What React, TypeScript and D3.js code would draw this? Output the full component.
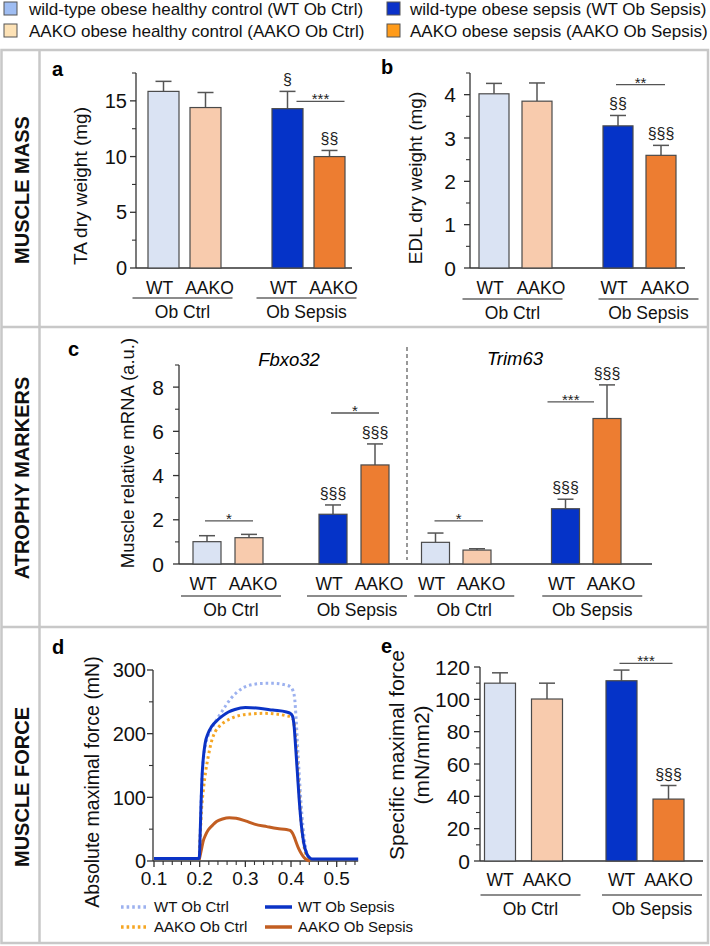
import React from "react";
import * as d3 from "d3";

const FONT = "'Liberation Sans', Arial, Helvetica, sans-serif";
const AX = "#333333";
const GRID = "#c8c8c8";

// ---------- data ----------
const legendLabels = [
  "wild-type obese healthy control (WT Ob Ctrl)",
  "AAKO obese healthy control (AAKO Ob Ctrl)",
  "wild-type obese sepsis (WT Ob Sepsis)",
  "AAKO obese sepsis (AAKO Ob Sepsis)",
];
const genotypes = ["WT", "AAKO", "WT", "AAKO"];
const groupNames = ["Ob Ctrl", "Ob Sepsis"];
const rowTitles = ["MUSCLE MASS", "ATROPHY MARKERS", "MUSCLE FORCE"];

const taMean = [15.85, 14.4, 14.3, 10.0];
const taSem = [0.9, 1.35, 1.55, 0.55];
const taMarks = ["", "", "§", "§§"];

const edlMean = [4.02, 3.85, 3.28, 2.6];
const edlSem = [0.24, 0.42, 0.24, 0.23];
const edlMarks = ["", "", "§§", "§§§"];

const fbxoMean = [1.01, 1.19, 2.25, 4.48];
const fbxoSem = [0.27, 0.15, 0.42, 0.95];
const fbxoMarks = ["", "", "§§§", "§§§"];

const trimMean = [0.98, 0.63, 2.5, 6.58];
const trimSem = [0.42, 0.06, 0.43, 1.52];
const trimMarks = ["", "", "§§§", "§§§"];

const forceMean = [110.0, 100.2, 111.5, 38.3];
const forceSem = [6.4, 9.8, 6.6, 8.4];
const forceMarks = ["", "", "", "§§§"];

// significance brackets: bar i to bar j at value v
const taBrackets = [{ i: 2, j: 3, v: 14.95, label: "***" }];
const edlBrackets = [{ i: 2, j: 3, v: 4.23, label: "**" }];
const fbxoBrackets = [
  { i: 0, j: 1, v: 1.95, label: "*" },
  { i: 2, j: 3, v: 6.83, label: "*" },
];
const trimBrackets = [
  { i: 0, j: 1, v: 1.95, label: "*" },
  { i: 2, j: 3, v: 7.33, label: "***" },
];
const forceBrackets = [{ i: 2, j: 3, v: 122.2, label: "***" }];

// force traces (time s, force mN)
const wtCtrlT = [0.199, 0.201, 0.203, 0.205, 0.208, 0.212, 0.218, 0.226, 0.237, 0.248, 0.258, 0.268, 0.28, 0.295, 0.315, 0.34, 0.365, 0.385, 0.398, 0.404, 0.408, 0.411, 0.414, 0.418, 0.422, 0.426, 0.431, 0.437, 0.445];
const wtCtrlF = [3, 40, 90, 128, 158, 180, 196, 208, 222, 234, 245, 255, 264, 272, 277, 279, 279, 277, 274, 268, 255, 225, 185, 135, 90, 55, 25, 8, 3];
const aakoCtrlT = [0.199, 0.201, 0.204, 0.208, 0.213, 0.219, 0.226, 0.234, 0.245, 0.258, 0.272, 0.29, 0.315, 0.34, 0.365, 0.39, 0.4, 0.405, 0.409, 0.413, 0.417, 0.421, 0.426, 0.432, 0.44, 0.447];
const aakoCtrlF = [3, 35, 80, 111, 140, 165, 188, 203, 213, 220, 225, 229, 231, 232, 231, 228, 226, 222, 200, 160, 115, 70, 35, 12, 4, 3];
const wtSepT = [0.1, 0.15, 0.199, 0.201, 0.203, 0.205, 0.208, 0.212, 0.218, 0.226, 0.237, 0.25, 0.263, 0.277, 0.3, 0.33, 0.36, 0.39, 0.398, 0.403, 0.407, 0.41, 0.414, 0.418, 0.423, 0.428, 0.434, 0.441, 0.448, 0.5, 0.547];
const wtSepF = [4, 4, 4, 40, 90, 130, 162, 185, 200, 211, 220, 228, 234, 238, 241, 240, 237, 234, 232, 228, 210, 180, 138, 95, 54, 28, 12, 5, 3, 3, 3];
const aakoSepT = [0.199, 0.202, 0.205, 0.208, 0.213, 0.219, 0.228, 0.237, 0.25, 0.265, 0.28, 0.3, 0.32, 0.347, 0.37, 0.39, 0.398, 0.403, 0.408, 0.412, 0.417, 0.423, 0.429, 0.435, 0.442];
const aakoSepF = [2, 12, 22, 32, 41, 49, 56, 62, 66, 68, 67, 63, 58, 54, 51, 49.5, 48, 44, 36, 28, 19, 11, 5, 1.5, 0.5];
const traceLabels = ["WT Ob Ctrl", "AAKO Ob Ctrl", "WT Ob Sepsis", "AAKO Ob Sepsis"];

// ---------- styles ----------
const barFills = ["#dae3f3", "#f8cbad", "#0533c8", "#ed7d31"];
const legendFills = ["#9fbdf2", "#fde2b6", "#0a31c9", "#ff9b1a"];
const traceColors = ["#9cb1ef", "#f5a623", "#0b33c6", "#c25e22"];

function VText({ x, y, size, weight, style, children }: any) {
  return (
    <text
      transform={`translate(${x},${y}) rotate(-90)`}
      textAnchor="middle"
      dy="0.35em"
      fontSize={size}
      fontWeight={weight}
      fontStyle={style}
      fill="#111"
    >
      {children}
    </text>
  );
}

function YAxis({ scale, x, max, major, minor, size, gap, fmt }: any) {
  const majors = d3.range(0, max + 1e-9, major);
  const minors = d3
    .range(0, max + 1e-9, minor)
    .filter((v) => Math.abs(v / major - Math.round(v / major)) > 1e-6);
  const f = fmt || ((v: number) => String(v));
  return (
    <g>
      <line x1={x} x2={x} y1={scale(0)} y2={scale(max)} stroke={AX} strokeWidth={1.3} />
      {majors.map((v) => (
        <g key={"M" + v}>
          <line x1={x - 6} x2={x} y1={scale(v)} y2={scale(v)} stroke={AX} strokeWidth={1.3} />
          <text x={x - gap} y={scale(v)} dy="0.36em" textAnchor="end" fontSize={size} fill="#111">
            {f(v)}
          </text>
        </g>
      ))}
      {minors.map((v) => (
        <line key={"m" + v} x1={x - 4} x2={x} y1={scale(v)} y2={scale(v)} stroke={AX} strokeWidth={1.1} />
      ))}
    </g>
  );
}

function Bars({ y, means, sems, marks, brackets, c0, step, gap, barW, ulShift, labelY, ulY, bOff, spread }: any) {
  const within = d3.scaleLinear().domain([0, 1]).range([c0, c0 + step]);
  const centers = [0, 1, 2, 3].map((i) => within(i % 2) + (i >= 2 ? step + gap : 0));
  const base = y(0);
  const sp = spread || 0;
  return (
    <g>
      {means.map((m: number, i: number) => {
        const cx = centers[i];
        const top = y(m + sems[i]);
        return (
          <g key={i}>
            <line x1={cx} x2={cx} y1={y(m)} y2={top} stroke="#555" strokeWidth={1.5} />
            <line x1={cx - 8} x2={cx + 8} y1={top} y2={top} stroke="#555" strokeWidth={1.5} />
            <rect x={cx - barW / 2} y={y(m)} width={barW} height={base - y(m)} fill={barFills[i]} stroke="#4a4a4a" strokeWidth={1.2} />
            {marks[i] ? (
              <text x={cx} y={top - 6} textAnchor="middle" fontSize={16} fill="#222">
                {marks[i]}
              </text>
            ) : null}
            <text x={cx + (i % 2 === 0 ? -sp : sp)} y={labelY} textAnchor="middle" fontSize={17.5} fill="#111">
              {genotypes[i]}
            </text>
          </g>
        );
      })}
      {brackets.map((b: any, k: number) => {
        const o = (bOff && bOff[k]) || [-2, 4];
        const x1 = centers[b.i] + o[0];
        const x2 = centers[b.j] + o[1];
        return (
          <g key={"b" + k}>
            <line x1={x1} x2={x2} y1={y(b.v)} y2={y(b.v)} stroke="#555" strokeWidth={1.3} />
            <text x={(x1 + x2) / 2} y={y(b.v) + 3} textAnchor="middle" fontSize={15} fill="#222">
              {b.label}
            </text>
          </g>
        );
      })}
      {groupNames.map((g, gi) => {
        const mid = (centers[gi * 2] + centers[gi * 2 + 1]) / 2 + ulShift[gi];
        return (
          <g key={g}>
            <line x1={mid - 50} x2={mid + 50} y1={ulY} y2={ulY} stroke="#666" strokeWidth={1.5} />
            <text x={mid} y={ulY + 20} textAnchor="middle" fontSize={17.5} fill="#111">
              {g}
            </text>
          </g>
        );
      })}
    </g>
  );
}

function Legend() {
  const rows = [
    [0, 2],
    [1, 3],
  ];
  const colSq = [4, 387];
  const colTx = [29, 410];
  return (
    <g>
      {rows.map((r, ri) =>
        r.map((li, ci) => (
          <g key={li}>
            <rect x={colSq[ci]} y={2 + ri * 22} width={13} height={13} fill={legendFills[li]} stroke="#555" strokeWidth={1} />
            <text x={colTx[ci]} y={15 + ri * 22} fontSize={17} fill="#111">
              {legendLabels[li]}
            </text>
          </g>
        ))
      )}
    </g>
  );
}

function Frame() {
  return (
    <g fill="none" stroke={GRID} strokeWidth={2.5}>
      <rect x={1.5} y={50} width={706.5} height={893} />
      <line x1={39.5} x2={39.5} y1={50} y2={943} />
      <line x1={1.5} x2={708} y1={327} y2={327} />
      <line x1={1.5} x2={708} y1={627} y2={627} />
    </g>
  );
}

function PanelA() {
  const y = d3.scaleLinear().domain([0, 17.5]).range([268, 73]);
  return (
    <g>
      <text x={52} y={76} fontSize={20} fontWeight="bold">a</text>
      <VText x={80} y={186} size={19}>TA dry weight (mg)</VText>
      <YAxis scale={y} x={136} max={17.5} major={5} minor={2.5} size={20} gap={9} />
      <line x1={136} x2={352} y1={268} y2={268} stroke={AX} strokeWidth={1.3} />
      <Bars y={y} means={taMean} sems={taSem} marks={taMarks} brackets={taBrackets}
        c0={163.5} step={42} gap={82} barW={31} ulShift={[-2, -2]} labelY={294} ulY={298}
        bOff={[[9, 15]]} spread={4} />
    </g>
  );
}

function PanelB() {
  const y = d3.scaleLinear().domain([0, 4.5]).range([268, 73]);
  return (
    <g>
      <text x={381} y={74} fontSize={20} fontWeight="bold">b</text>
      <VText x={415} y={178} size={19}>EDL dry weight (mg)</VText>
      <YAxis scale={y} x={470} max={4.5} major={1} minor={0.5} size={21} gap={14} />
      <line x1={470} x2={685} y1={268} y2={268} stroke={AX} strokeWidth={1.3} />
      <Bars y={y} means={edlMean} sems={edlSem} marks={edlMarks} brackets={edlBrackets}
        c0={494} step={43} gap={81} barW={30} ulShift={[-3, 9]} labelY={294} ulY={299} spread={4} />
    </g>
  );
}

function PanelC() {
  const y = d3.scaleLinear().domain([0, 9]).range([564, 365]);
  return (
    <g>
      <text x={68} y={356} fontSize={20} fontWeight="bold">c</text>
      <VText x={128} y={453} size={18.5}>Muscle relative mRNA (a.u.)</VText>
      <YAxis scale={y} x={179} max={9} major={2} minor={1} size={21} gap={15} />
      <line x1={179} x2={652} y1={564} y2={564} stroke={AX} strokeWidth={1.3} />
      <line x1={407} x2={407} y1={347} y2={560} stroke="#555" strokeWidth={1.2} strokeDasharray="4 3" />
      <text x={289} y={366} textAnchor="middle" fontSize={18.5} fontStyle="italic">Fbxo32</text>
      <text x={515} y={365} textAnchor="middle" fontSize={18.5} fontStyle="italic">Trim63</text>
      <Bars y={y} means={fbxoMean} sems={fbxoSem} marks={fbxoMarks} brackets={fbxoBrackets}
        c0={207} step={42} gap={84} barW={28} ulShift={[3, 3]} labelY={590} ulY={596} spread={4} />
      <Bars y={y} means={trimMean} sems={trimSem} marks={trimMarks} brackets={trimBrackets}
        c0={435.5} step={41.5} gap={88.5} barW={28} ulShift={[8, 6]} labelY={590} ulY={596}
        bOff={[[-1, 6], [-18, -13]]} spread={4} />
    </g>
  );
}

function PanelD() {
  const x = d3.scaleLinear().domain([0.1, 0.5]).range([154, 336.7]);
  const y = d3.scaleLinear().domain([0, 300]).range([861, 670]);
  const line = d3
    .line<[number, number]>()
    .x((d) => x(d[0]))
    .y((d) => y(d[1]))
    .curve(d3.curveMonotoneX);
  const zip = (t: number[], f: number[]) => t.map((v, i) => [v, f[i]] as [number, number]);
  const xMajors = d3.range(0.1, 0.5 + 1e-9, 0.1);
  const xMinors = d3.range(0.1, 0.547, 0.02).filter((v) => Math.abs(v * 10 - Math.round(v * 10)) > 1e-6);
  const dotted = "2.6 3";
  const legendRows = [
    { i: 0, x: 121, y: 907 },
    { i: 1, x: 121, y: 927 },
    { i: 2, x: 265, y: 907 },
    { i: 3, x: 265, y: 927 },
  ];
  return (
    <g>
      <text x={52} y={654} fontSize={20} fontWeight="bold">d</text>
      <VText x={92} y={782} size={19.5}>Absolute maximal force (mN)</VText>
      <YAxis scale={y} x={153} max={300} major={100} minor={50} size={20} gap={7} />
      <line x1={153} x2={x(0.547)} y1={861} y2={861} stroke={AX} strokeWidth={1.3} />
      {xMajors.map((v) => (
        <g key={"x" + v}>
          <line x1={x(v)} x2={x(v)} y1={861} y2={867} stroke={AX} strokeWidth={1.3} />
          <text x={x(v)} y={885} textAnchor="middle" fontSize={19} fill="#111">{d3.format(".1f")(v)}</text>
        </g>
      ))}
      {xMinors.map((v) => (
        <line key={"xm" + v} x1={x(v)} x2={x(v)} y1={861} y2={865} stroke={AX} strokeWidth={1.1} />
      ))}
      <path d={line(zip(wtCtrlT, wtCtrlF)) || ""} fill="none" stroke={traceColors[0]} strokeWidth={3} strokeDasharray={dotted} />
      <path d={line(zip(aakoCtrlT, aakoCtrlF)) || ""} fill="none" stroke={traceColors[1]} strokeWidth={3} strokeDasharray={dotted} />
      <path d={line(zip(aakoSepT, aakoSepF)) || ""} fill="none" stroke={traceColors[3]} strokeWidth={3} />
      <path d={line(zip(wtSepT, wtSepF)) || ""} fill="none" stroke={traceColors[2]} strokeWidth={3} />
      {legendRows.map((r) => (
        <g key={"lg" + r.i}>
          <line x1={r.x} x2={r.x + 27} y1={r.y} y2={r.y} stroke={traceColors[r.i]} strokeWidth={3.5}
            strokeDasharray={r.i < 2 ? dotted : undefined} />
          <text x={r.x + 33} y={r.y + 5} fontSize={15} fill="#111">{traceLabels[r.i]}</text>
        </g>
      ))}
    </g>
  );
}

function PanelE() {
  const y = d3.scaleLinear().domain([0, 120]).range([861, 667]);
  return (
    <g>
      <text x={381} y={653} fontSize={20} fontWeight="bold">e</text>
      <VText x={397} y={755} size={21}>Specific maximal force</VText>
      <VText x={422} y={755} size={21}>(mN/mm2)</VText>
      <YAxis scale={y} x={480} max={120} major={20} minor={10} size={21} gap={10} />
      <line x1={480} x2={703} y1={861} y2={861} stroke={AX} strokeWidth={1.3} />
      <Bars y={y} means={forceMean} sems={forceSem} marks={forceMarks} brackets={forceBrackets}
        c0={500} step={47} gap={74.5} barW={31} ulShift={[7, 7]} labelY={886} ulY={895} />
    </g>
  );
}

export default function App() {
  const W = 710;
  const H = 946;
  return (
    <div style={{ position: "absolute", left: 0, top: 0 }}>
      <svg width={W} height={H} fontFamily={FONT} style={{ display: "block" }}>
        <rect width={W} height={H} fill="#ffffff" />
        <Legend />
        <Frame />
        <VText x={22} y={190} size={20} weight="bold">{rowTitles[0]}</VText>
        <VText x={22} y={478} size={20} weight="bold">{rowTitles[1]}</VText>
        <VText x={22} y={787} size={20} weight="bold">{rowTitles[2]}</VText>
        <PanelA />
        <PanelB />
        <PanelC />
        <PanelD />
        <PanelE />
      </svg>
    </div>
  );
}
